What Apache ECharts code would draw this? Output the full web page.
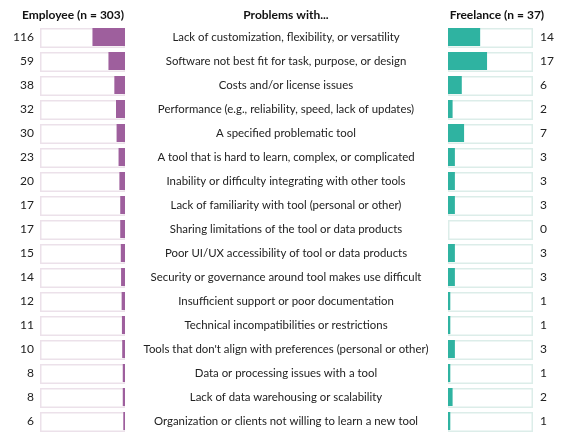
<!DOCTYPE html>
<html>
<head>
<meta charset="utf-8">
<script src="https://cdn.jsdelivr.net/npm/echarts@6/dist/echarts.min.js"></script>
<style>
  html, body { margin: 0; padding: 0; background: #fff; }
  #main { width: 578px; height: 445px; }
</style>
</head>
<body>
<div id="main"></div>
<script>
// data
const problems = [
    'Lack of customization, flexibility, or versatility',
    'Software not best fit for task, purpose, or design',
    'Costs and/or license issues',
    'Performance (e.g., reliability, speed, lack of updates)',
    'A specified problematic tool',
    'A tool that is hard to learn, complex, or complicated',
    'Inability or difficulty integrating with other tools',
    'Lack of familiarity with tool (personal or other)',
    'Sharing limitations of the tool or data products',
    'Poor UI/UX accessibility of tool or data products',
    'Security or governance around tool makes use difficult',
    'Insufficient support or poor documentation',
    'Technical incompatibilities or restrictions',
    "Tools that don't align with preferences (personal or other)",
    'Data or processing issues with a tool',
    'Lack of data warehousing or scalability',
    'Organization or clients not willing to learn a new tool'
];
const employee = [116, 59, 38, 32, 30, 23, 20, 17, 17, 15, 14, 12, 11, 10, 8, 8, 6];
const freelance = [14, 17, 6, 2, 7, 3, 3, 3, 0, 3, 3, 1, 1, 3, 1, 2, 1];
const n_emp = 303;
const n_free = 37;

const font = 'Lato, "Open Sans", sans-serif';
const purple = '#9e5f9d';
const teal = '#2fb3a1';

// share of respondents, in percent
function pct(arr, n) {
    var out = [];
    for (var i = 0; i < arr.length; i++) {
        out.push(arr[i] / n * 100);
    }
    return out;
}

function full(arr) {
    var out = [];
    for (var i = 0; i < arr.length; i++) {
        out.push(100);
    }
    return out;
}

var myChart = echarts.init(document.getElementById('main'));

var hiddenX = { type: 'value', min: 0, max: 100, show: false };
var catY = {
    type: 'category',
    data: problems,
    inverse: true,
    axisLine: { show: false },
    axisTick: { show: false }
};

function header(x, txt) {
    return {
        type: 'text', x: x, y: 15,
        style: {
            text: txt, fontSize: 12, fontWeight: 'bold', fontFamily: font,
            fill: '#111', align: 'center', verticalAlign: 'middle'
        }
    };
}

var option = {
    animation: false,
    backgroundColor: '#fff',
    textStyle: { fontFamily: font },
    graphic: [
        header(73, 'Employee (n = 303)'),
        header(286, 'Problems with...'),
        header(497, 'Freelance (n = 37)')
    ],
    grid: [
        { left: 40, width: 85, top: 25, height: 408 },
        { left: 448, width: 85, top: 25, height: 408 },
        { left: 286, width: 1, top: 25, height: 408 }
    ],
    xAxis: [
        Object.assign({ gridIndex: 0, inverse: true }, hiddenX),
        Object.assign({ gridIndex: 1 }, hiddenX),
        Object.assign({ gridIndex: 2 }, hiddenX)
    ],
    yAxis: [
        Object.assign({}, catY, {
            gridIndex: 0,
            position: 'left',
            axisLabel: {
                margin: 6, fontSize: 12, color: '#222', fontFamily: font,
                formatter: function (v, i) { return String(employee[i]); }
            }
        }),
        Object.assign({}, catY, {
            gridIndex: 1,
            position: 'right',
            axisLabel: {
                margin: 7, fontSize: 12, color: '#222', fontFamily: font,
                formatter: function (v, i) { return String(freelance[i]); }
            }
        }),
        Object.assign({}, catY, {
            gridIndex: 2,
            position: 'left',
            axisLabel: {
                margin: 0, align: 'center', fontSize: 11.4, color: '#222', fontFamily: font
            }
        })
    ],
    series: [
        {
            type: 'bar', xAxisIndex: 0, yAxisIndex: 0, barWidth: 20, barGap: '-100%',
            data: full(employee), silent: true,
            itemStyle: { color: '#fff', borderColor: '#ece1ea', borderWidth: 1.5 }
        },
        {
            type: 'bar', xAxisIndex: 0, yAxisIndex: 0, barWidth: 18, barGap: '-100%',
            data: pct(employee, n_emp),
            itemStyle: { color: purple }
        },
        {
            type: 'bar', xAxisIndex: 1, yAxisIndex: 1, barWidth: 20, barGap: '-100%',
            data: full(freelance), silent: true,
            itemStyle: { color: '#fff', borderColor: '#dcede9', borderWidth: 1.5 }
        },
        {
            type: 'bar', xAxisIndex: 1, yAxisIndex: 1, barWidth: 18, barGap: '-100%',
            data: pct(freelance, n_free),
            itemStyle: { color: teal }
        }
    ]
};

myChart.setOption(option);
</script>
</body>
</html>
